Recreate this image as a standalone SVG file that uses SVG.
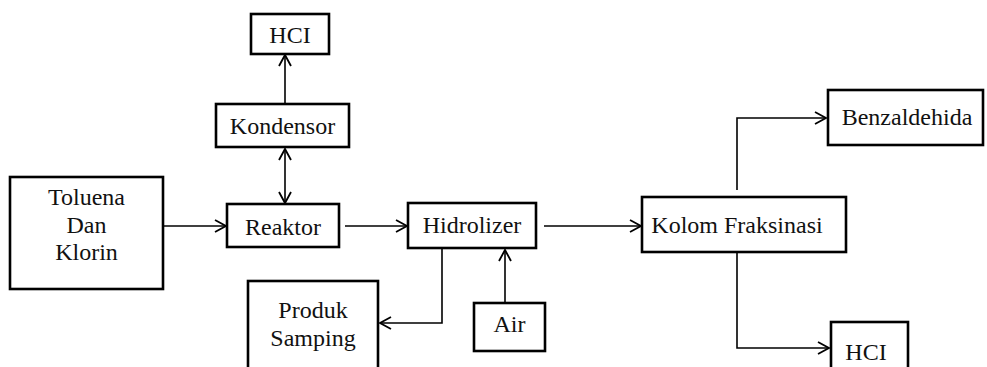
<svg xmlns="http://www.w3.org/2000/svg" width="987" height="367" viewBox="0 0 987 367">
<style>
.box{fill:#fff;stroke:#000;stroke-width:2.6}
.t{font-family:'Liberation Serif','Times New Roman',serif;font-size:24px;fill:#111;text-anchor:middle}
.c{fill:none;stroke:#000;stroke-width:1.6}
</style>
<defs>
<marker id="ah" markerUnits="userSpaceOnUse" markerWidth="14" markerHeight="16" refX="12" refY="7" orient="auto-start-reverse" viewBox="0 0 14 14">
<path d="M1,1 L12,7 L1,13" fill="none" stroke="#000" stroke-width="1.8"/>
</marker>
</defs>
<rect width="987" height="367" fill="#fff"/>
<g id="connectors">
<line class="c" x1="285" y1="104" x2="285" y2="55" marker-end="url(#ah)"/>
<line class="c" x1="285" y1="149" x2="285" y2="203" marker-start="url(#ah)" marker-end="url(#ah)"/>
<line class="c" x1="163" y1="226" x2="226" y2="226" marker-end="url(#ah)"/>
<line class="c" x1="345" y1="226" x2="407" y2="226" marker-end="url(#ah)"/>
<line class="c" x1="544" y1="226" x2="641" y2="226" marker-end="url(#ah)"/>
<polyline class="c" points="442,248 442,323 380,323" marker-end="url(#ah)"/>
<line class="c" x1="505" y1="303" x2="505" y2="250" marker-end="url(#ah)"/>
<polyline class="c" points="737,190 737,118 826,118" marker-end="url(#ah)"/>
<polyline class="c" points="737,252 737,348 829,348" marker-end="url(#ah)"/>
</g>
<g id="hcl-top"><rect class="box" x="251" y="14" width="78" height="40"/><text class="t" x="290" y="43">HCI</text></g>
<g id="kondensor"><rect class="box" x="216" y="104" width="133" height="43"/><text class="t" x="282.5" y="134">Kondensor</text></g>
<g id="toluena"><rect class="box" x="10" y="177" width="153" height="112"/><text class="t" x="86.5" y="205">Toluena</text><text class="t" x="86.5" y="233">Dan</text><text class="t" x="86.5" y="260">Klorin</text></g>
<g id="reaktor"><rect class="box" x="227" y="204" width="112" height="43"/><text class="t" x="283" y="235">Reaktor</text></g>
<g id="hidrolizer"><rect class="box" x="408" y="203" width="128" height="45"/><text class="t" x="472" y="233">Hidrolizer</text></g>
<g id="kolom"><rect class="box" x="642" y="197" width="204" height="55"/><text class="t" x="737" y="233">Kolom Fraksinasi</text></g>
<g id="produk"><rect class="box" x="248" y="281" width="130" height="95"/><text class="t" x="313" y="318">Produk</text><text class="t" x="313" y="346">Samping</text></g>
<g id="air"><rect class="box" x="474" y="303" width="71" height="48"/><text class="t" x="509.5" y="332">Air</text></g>
<g id="benzaldehida"><rect class="box" x="828" y="90" width="155" height="55"/><text class="t" x="907" y="125">Benzaldehida</text></g>
<g id="hcl-bottom"><rect class="box" x="831" y="322" width="77" height="60"/><text class="t" x="866" y="360">HCI</text></g>
</svg>
